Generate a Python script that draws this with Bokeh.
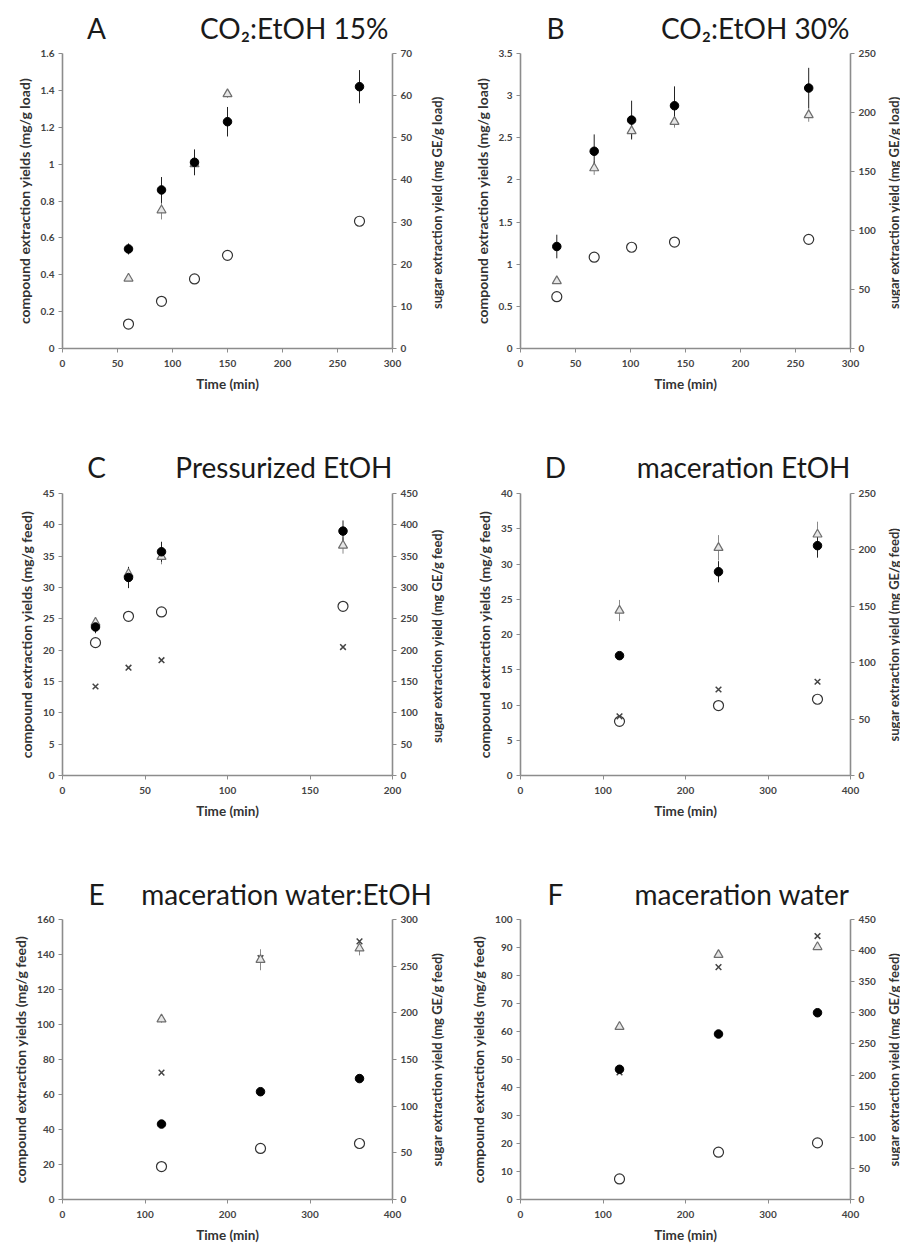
import math
from bokeh.plotting import figure
from bokeh.models import Range1d, LinearAxis, FixedTicker
from bokeh.core.properties import value
from bokeh.layouts import column, row
from bokeh.embed import file_html
from bokeh.resources import INLINE

FONT = "Lato"

# ---------------- data ----------------
# Panel A  CO2:EtOH 15%
a_t = [60, 90, 120, 150, 270]
a_circ = [0.54, 0.86, 1.01, 1.23, 1.42]
a_circ_err = [0.03, 0.07, 0.07, 0.08, 0.09]
a_t_tri = [60, 90, 120, 150]
a_tri = [0.38, 0.75, 1.00, 1.38]
a_tri_err = [0.01, 0.05, 0.06, 0.02]
a_sug = [5.8, 11.2, 16.5, 22.1, 30.2]

# Panel B  CO2:EtOH 30%
b_t = [33, 67, 101, 140, 262]
b_circ = [1.21, 2.34, 2.71, 2.88, 3.09]
b_circ_err = [0.14, 0.20, 0.23, 0.23, 0.24]
b_tri = [0.80, 2.14, 2.58, 2.69, 2.77]
b_tri_err = [0.02, 0.08, 0.08, 0.07, 0.08]
b_sug = [43.9, 77.4, 85.8, 90.2, 92.5]

# Panel C  Pressurized EtOH
c_t = [20, 40, 60, 170]
c_circ = [23.7, 31.6, 35.7, 39.0]
c_circ_err = [1.0, 1.7, 1.6, 1.7]
c_tri = [24.4, 32.2, 34.9, 36.7]
c_tri_err = [0.8, 1.0, 1.2, 1.3]
c_sug = [212, 254, 261, 270]
c_cross = [14.2, 17.2, 18.4, 20.5]

# Panel D  maceration EtOH
d_t = [120, 240, 360]
d_circ = [17.0, 28.9, 32.6]
d_circ_err = [0.5, 1.5, 1.7]
d_tri = [23.4, 32.3, 34.2]
d_tri_err = [1.5, 1.8, 1.8]
d_sug = [48.0, 62.0, 67.6]
d_cross = [8.4, 12.2, 13.3]

# Panel E  maceration water:EtOH
e_t = [120, 240, 360]
e_circ = [43.1, 61.6, 69.1]
e_circ_err = [1.5, 2.0, 1.5]
e_tri = [103.0, 137.0, 143.5]
e_tri_err = [2.0, 6.0, 4.0]
e_sug = [35.3, 54.7, 60.0]
e_cross = [72.5, 138.0, 147.5]

# Panel F  maceration water
f_t = [120, 240, 360]
f_circ = [46.5, 59.1, 66.7]
f_circ_err = [1.0, 1.0, 0.8]
f_tri = [61.7, 87.4, 90.2]
f_tri_err = [0.8, 1.0, 0.8]
f_sug = [33.0, 76.0, 91.0]
f_cross = [45.4, 83.0, 94.1]

# ticks
x_ticks_300 = [0, 50, 100, 150, 200, 250, 300]
x_ticks_200 = [0, 50, 100, 150, 200]
x_ticks_400 = [0, 100, 200, 300, 400]
a_y_ticks = [0, 0.2, 0.4, 0.6, 0.8, 1.0, 1.2, 1.4, 1.6]
a_y_labels = ["0", "0.2", "0.4", "0.6", "0.8", "1", "1.2", "1.4", "1.6"]
a_r_ticks = [0, 10, 20, 30, 40, 50, 60, 70]
b_y_ticks = [0, 0.5, 1.0, 1.5, 2.0, 2.5, 3.0, 3.5]
b_y_labels = ["0", "0.5", "1", "1.5", "2", "2.5", "3", "3.5"]
b_r_ticks = [0, 50, 100, 150, 200, 250]
c_y_ticks = [0, 5, 10, 15, 20, 25, 30, 35, 40, 45]
c_r_ticks = [0, 50, 100, 150, 200, 250, 300, 350, 400, 450]
d_y_ticks = [0, 5, 10, 15, 20, 25, 30, 35, 40]
d_r_ticks = [0, 50, 100, 150, 200, 250]
e_y_ticks = [0, 20, 40, 60, 80, 100, 120, 140, 160]
e_r_ticks = [0, 50, 100, 150, 200, 250, 300]
f_y_ticks = [0, 10, 20, 30, 40, 50, 60, 70, 80, 90, 100]
f_r_ticks = [0, 50, 100, 150, 200, 250, 300, 350, 400, 450]

# ---------------- layout (page pixels) ----------------
PAGE_W = 900
# per column: plot figure x0..x1, frame fl..fr, right-label strip x1..x2, label centre lx
COLS = [dict(x0=0, fl=62, fr=392, x1=422, x2=452, lx=436),
        dict(x0=452, fl=520, fr=850, x1=880, x2=900, lx=893)]
# per row: title strip y0..yp, plot figure yp..y1, frame ft..fb
ROWS = [dict(y0=0, yp=46, ft=53, fb=348, y1=410),
        dict(y0=410, yp=486, ft=493, fb=775, y1=830),
        dict(y0=830, yp=912, ft=919, fb=1200, y1=1245)]
TITLE_Y = [27, 466, 893]
LETTER_X = [96, 555]

AXIS_COLOR = "#8c8c8c"
TXT = "#333333"


def style_axis(ax, ticks, labels=None):
    ax.ticker = FixedTicker(ticks=ticks)
    ax.major_label_overrides = {t: (labels[i] if labels else str(t)) for i, t in enumerate(ticks)}
    ax.axis_line_color = AXIS_COLOR
    ax.axis_line_width = 1.6
    ax.major_tick_line_color = AXIS_COLOR
    ax.major_tick_in = 0
    ax.major_tick_out = 4
    ax.minor_tick_line_color = None
    ax.major_label_text_font = FONT
    ax.major_label_text_font_size = "10px"
    ax.major_label_text_font_style = "bold"
    ax.major_label_text_color = "#444444"
    ax.major_label_standoff = 4
    ax.axis_label_text_font = FONT
    ax.axis_label_text_font_style = "bold"
    ax.axis_label_text_color = TXT
    ax.axis_label_standoff = 5


def title_row(ri, titles):
    r = ROWS[ri]
    h = r["yp"] - r["y0"]
    t = figure(width=PAGE_W, height=h, x_range=Range1d(0, PAGE_W),
               y_range=Range1d(r["y0"] + h, r["y0"]), x_axis_type=None, y_axis_type=None,
               min_border=0, output_backend="svg", toolbar_location=None, tools="")
    t.outline_line_color = None
    t.xgrid.visible = False
    t.ygrid.visible = False
    ty = TITLE_Y[ri]
    for ci, (letter, title, right) in enumerate(titles):
        t.text(x=[LETTER_X[ci]], y=[ty], text=[letter], text_font=value(FONT),
               text_font_size="28px", text_color="#1a1a1a", text_align="center",
               text_baseline="middle")
        t.text(x=[right], y=[ty], text=[title], text_font=value(FONT),
               text_font_size="28px", text_color="#1a1a1a", text_align="right",
               text_baseline="middle")
    return t


def right_label(ci, ri, text):
    c, r = COLS[ci], ROWS[ri]
    w = c["x2"] - c["x1"]
    s = figure(width=w, height=r["y1"] - r["yp"], x_range=Range1d(c["x1"], c["x2"]),
               y_range=Range1d(r["fb"], r["ft"]), x_axis_type=None, y_axis_type=None,
               min_border_left=0, min_border_right=0, min_border_top=r["ft"] - r["yp"],
               min_border_bottom=r["y1"] - r["fb"], output_backend="svg",
               toolbar_location=None, tools="")
    s.outline_line_color = None
    s.xgrid.visible = False
    s.ygrid.visible = False
    s.text(x=[c["lx"]], y=[(r["ft"] + r["fb"]) / 2], text=[text], angle=math.pi / 2,
           text_font=value(FONT), text_font_size="13px", text_font_style="bold",
           text_color=TXT, text_align="center", text_baseline="middle")
    return s


def panel(ci, ri, x_max, x_ticks, y_max, y_ticks, y_labels,
          r_max, r_ticks, ylabel, t, circ, circ_err, t_tri, tri, tri_err, sug,
          cross=None):
    c, r = COLS[ci], ROWS[ri]
    fl, fr, ft, fb = c["fl"], c["fr"], r["ft"], r["fb"]
    p = figure(width=c["x1"] - c["x0"], height=r["y1"] - r["yp"],
               min_border_left=fl - c["x0"], min_border_right=c["x1"] - fr,
               min_border_top=ft - r["yp"], min_border_bottom=r["y1"] - fb,
               x_range=Range1d(0, x_max), y_range=Range1d(0, y_max),
               output_backend="svg", toolbar_location=None, tools="")
    p.outline_line_color = None
    p.xgrid.visible = False
    p.ygrid.visible = False
    p.background_fill_color = "white"
    p.border_fill_color = "white"
    p.extra_y_ranges = {"sugar": Range1d(0, r_max)}
    rax = LinearAxis(y_range_name="sugar")
    p.add_layout(rax, "right")

    style_axis(p.xaxis[0], x_ticks)
    p.xaxis[0].axis_label = "Time (min)"
    p.xaxis[0].axis_label_text_font_size = "13.5px"
    p.xaxis[0].major_label_standoff = 7
    p.xaxis[0].axis_label_standoff = 6
    style_axis(p.yaxis[0], y_ticks, y_labels)
    p.yaxis[0].axis_label = ylabel
    p.yaxis[0].axis_label_text_font_size = "14px"
    style_axis(rax, r_ticks)

    # error bars
    p.segment(x0=t_tri, x1=t_tri, y0=[v - e for v, e in zip(tri, tri_err)],
              y1=[v + e for v, e in zip(tri, tri_err)], line_color="#8a8a8a", line_width=1)
    p.segment(x0=t, x1=t, y0=[v - e for v, e in zip(circ, circ_err)],
              y1=[v + e for v, e in zip(circ, circ_err)], line_color="#222222", line_width=1)
    # markers
    p.scatter(t, sug, marker="circle", size=10, fill_color="white", line_color="#333333",
              line_width=1.2, y_range_name="sugar")
    if cross is not None:
        p.scatter(t, cross, marker="x", size=8, line_color="#444444", line_width=1.5)
    p.scatter(t_tri, tri, marker="triangle", size=9, fill_color="#e6e6e6", line_color="#6e6e6e",
              line_width=1.2)
    p.scatter(t, circ, marker="circle", size=8.5, fill_color="black", line_color="black")
    return p


lab_load = "compound extraction yields (mg/g load)"
lab_feed = "compound extraction yields (mg/g feed)"

t1 = title_row(0, [("A", "CO\u2082:EtOH 15%", 388), ("B", "CO\u2082:EtOH 30%", 849)])
pa = panel(0, 0, 300, x_ticks_300, 1.6, a_y_ticks, a_y_labels, 70, a_r_ticks, lab_load,
           a_t, a_circ, a_circ_err, a_t_tri, a_tri, a_tri_err, a_sug)
la = right_label(0, 0, "sugar extraction yield (mg GE/g  load)")
pb = panel(1, 0, 300, x_ticks_300, 3.5, b_y_ticks, b_y_labels, 250, b_r_ticks, lab_load,
           b_t, b_circ, b_circ_err, b_t, b_tri, b_tri_err, b_sug)
lb = right_label(1, 0, "sugar extraction yield (mg GE/g  load)")

t2 = title_row(1, [("C", "Pressurized EtOH", 392), ("D", "maceration EtOH", 850)])
pc = panel(0, 1, 200, x_ticks_200, 45, c_y_ticks, None, 450, c_r_ticks, lab_feed,
           c_t, c_circ, c_circ_err, c_t, c_tri, c_tri_err, c_sug, c_cross)
lc = right_label(0, 1, "sugar extraction yield (mg GE/g  feed)")
pd = panel(1, 1, 400, x_ticks_400, 40, d_y_ticks, None, 250, d_r_ticks, lab_feed,
           d_t, d_circ, d_circ_err, d_t, d_tri, d_tri_err, d_sug, d_cross)
ld = right_label(1, 1, "sugar extraction yield (mg GE/g feed)")

t3 = title_row(2, [("E", "maceration water:EtOH", 432), ("F", "maceration water", 849)])
pe = panel(0, 2, 400, x_ticks_400, 160, e_y_ticks, None, 300, e_r_ticks, lab_feed,
           e_t, e_circ, e_circ_err, e_t, e_tri, e_tri_err, e_sug, e_cross)
le = right_label(0, 2, "sugar extraction yield (mg GE/g feed)")
pf = panel(1, 2, 400, x_ticks_400, 100, f_y_ticks, None, 450, f_r_ticks, lab_feed,
           f_t, f_circ, f_circ_err, f_t, f_tri, f_tri_err, f_sug, f_cross)
lf = right_label(1, 2, "sugar extraction yield (mg GE/g feed)")

layout = column(t1, row(pa, la, pb, lb),
                t2, row(pc, lc, pd, ld),
                t3, row(pe, le, pf, lf))
open("out.html", "w").write(file_html(layout, INLINE))
